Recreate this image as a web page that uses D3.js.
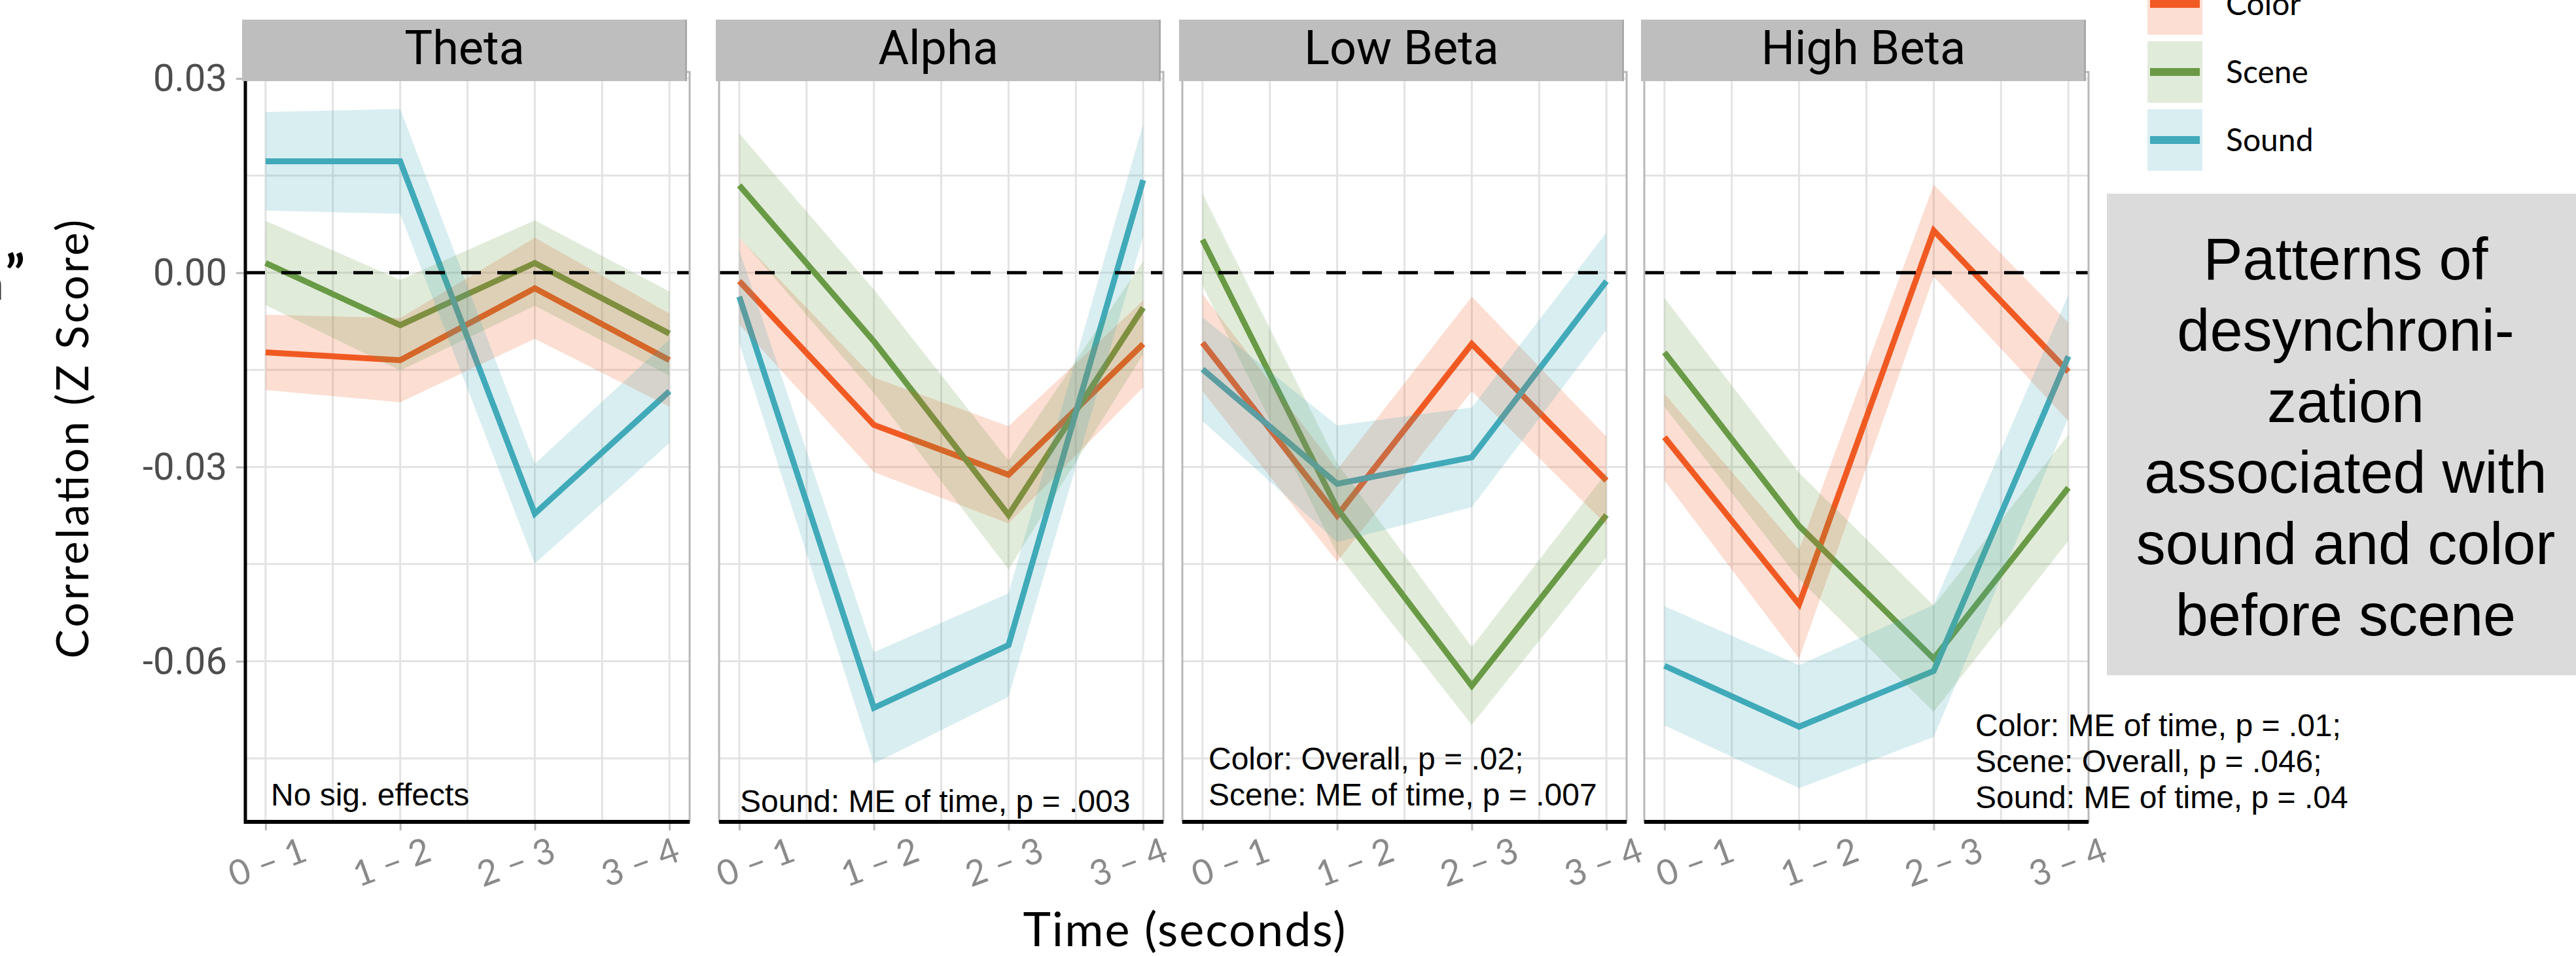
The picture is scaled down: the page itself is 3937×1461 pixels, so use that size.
<!DOCTYPE html>
<html>
<head>
<meta charset="utf-8">
<script src="https://cdn.jsdelivr.net/npm/d3@7"></script>
<style>
  body { margin: 0; background: #fff; }
  svg { display: block; }
</style>
</head>
<body>
<div id="chart"></div>
<script>
// facets and groups
const bands = ["Theta", "Alpha", "Low Beta", "High Beta"];
const conditions = ["Color", "Scene", "Sound"];
const timePoints = [1, 2, 3, 4];
const timeLabels = ["0 – 1", "1 – 2", "2 – 3", "3 – 4"];

// mean correlation (z) per band, one value per time bin
const colorMean = [
  [-0.0123, -0.0135, -0.0024, -0.0135],
  [-0.0013, -0.0235, -0.0312, -0.011],
  [-0.0108, -0.0375, -0.011, -0.0321],
  [-0.0254, -0.0512, 0.0065, -0.0153],
];
const colorSe = [
  [0.0058, 0.0065, 0.0078, 0.0072],
  [0.0067, 0.0073, 0.0075, 0.0067],
  [0.0075, 0.0071, 0.0073, 0.0068],
  [0.0067, 0.0084, 0.0071, 0.0076],
];
const sceneMean = [
  [0.0015, -0.0081, 0.0015, -0.0094],
  [0.0135, -0.0106, -0.0374, -0.0054],
  [0.0051, -0.0364, -0.0638, -0.0374],
  [-0.0123, -0.0391, -0.0596, -0.0332],
];
const sceneSe = [
  [0.0065, 0.007, 0.0066, 0.0065],
  [0.008, 0.008, 0.0084, 0.0072],
  [0.0071, 0.007, 0.006, 0.0065],
  [0.0084, 0.0082, 0.0082, 0.0082],
];
const soundMean = [
  [0.0172, 0.0172, -0.0372, -0.0183],
  [-0.0037, -0.0672, -0.0575, 0.0143],
  [-0.0149, -0.0326, -0.0285, -0.0013],
  [-0.0607, -0.0701, -0.0615, -0.0129],
];
const soundSe = [
  [0.0076, 0.0081, 0.0077, 0.008],
  [0.0072, 0.0086, 0.008, 0.0087],
  [0.008, 0.009, 0.0077, 0.0075],
  [0.0092, 0.0095, 0.0102, 0.0095],
];

const yTicks = [0.03, 0, -0.03, -0.06];
const yMinor = [0.015, -0.015, -0.045, -0.075];
const xMinor = [1.5, 2.5, 3.5];

// stats notes printed inside each facet
const notes = [
  ["No sig. effects"],
  ["Sound: ME of time, p = .003"],
  ["Color: Overall, p = .02;", "Scene: ME of time, p = .007"],
  ["Color: ME of time, p = .01;", "Scene: Overall, p = .046;", "Sound: ME of time, p = .04"],
];

const boxLines = [
  "Patterns of",
  "desynchroni-",
  "zation",
  "associated with",
  "sound and color",
  "before scene",
];

const colours = { Color: "#F15A22", Scene: "#6A9A45", Sound: "#40AABA" };

const series = [
  { name: "Color", mean: colorMean, se: colorSe },
  { name: "Scene", mean: sceneMean, se: sceneSe },
  { name: "Sound", mean: soundMean, se: soundSe },
];

// layout
const width = 3937;
const height = 1461;
const panelLeft = [375, 1099, 1807, 2513];
const panelW = 679;
const panelTop = 110;
const panelBottom = 1256;
const labelStart = [33, 55, 73, 77]; // the time labels sit a bit off the ticks
const labelStep = 190;
const notePos = [[39, 1231], [32, 1241], [40, 1176], [506, 1125]];
const noteLead = 55;

const titleFont = "Lato, 'Open Sans', sans-serif";
const condFont = "Roboto, 'DejaVu Sans', sans-serif";
const plainFont = "'Liberation Sans', Arial, sans-serif";

const svg = d3
  .select("#chart")
  .append("svg")
  .attr("width", width)
  .attr("height", height)
  .attr("viewBox", `0 0 ${width} ${height}`);

svg.append("rect").attr("width", width).attr("height", height).attr("fill", "#fff");

const y = d3.scaleLinear().domain([-0.0848, 0.031]).range([panelBottom, panelTop]);

bands.forEach((band, b) => {
  const left = panelLeft[b];
  const x = d3.scaleLinear().domain([0.85, 4.15]).range([left, left + panelW]);
  const g = svg.append("g").attr("class", "panel");

  // grid
  g.append("g")
    .selectAll("line")
    .data([...yTicks, ...yMinor])
    .join("line")
    .attr("x1", left)
    .attr("x2", left + panelW)
    .attr("y1", (d) => y(d))
    .attr("y2", (d) => y(d))
    .attr("stroke", "#e3e3e3")
    .attr("stroke-width", 3);

  g.append("g")
    .selectAll("line")
    .data([...timePoints, ...xMinor])
    .join("line")
    .attr("x1", (d) => x(d))
    .attr("x2", (d) => x(d))
    .attr("y1", panelTop)
    .attr("y2", panelBottom)
    .attr("stroke", "#e3e3e3")
    .attr("stroke-width", 3);

  // lines first, ribbons on top of them
  const line = d3
    .line()
    .x((d, i) => x(timePoints[i]))
    .y((d) => y(d));

  g.append("g")
    .selectAll("path")
    .data(series)
    .join("path")
    .attr("d", (s) => line(s.mean[b]))
    .attr("fill", "none")
    .attr("stroke", (s) => colours[s.name])
    .attr("stroke-width", 9)
    .attr("stroke-linejoin", "miter");

  const area = d3
    .area()
    .x((d) => x(d.t))
    .y0((d) => y(d.m - d.se))
    .y1((d) => y(d.m + d.se));

  g.append("g")
    .selectAll("path")
    .data(series)
    .join("path")
    .attr("d", (s) =>
      area(s.mean[b].map((m, i) => ({ t: timePoints[i], m, se: s.se[b][i] }))),
    )
    .attr("fill", (s) => colours[s.name])
    .attr("fill-opacity", 0.2);

  // zero reference
  g.append("line")
    .attr("x1", left)
    .attr("x2", left + panelW)
    .attr("y1", y(0))
    .attr("y2", y(0))
    .attr("stroke", "#000")
    .attr("stroke-width", 5)
    .attr("stroke-dasharray", "30,25");

  // panel border
  g.append("rect")
    .attr("x", left)
    .attr("y", panelTop)
    .attr("width", panelW)
    .attr("height", panelBottom - panelTop)
    .attr("fill", "none")
    .attr("stroke", "#b8b8b8")
    .attr("stroke-width", 3);

  // x axis
  const xAxis = g
    .append("g")
    .attr("transform", `translate(0,${panelBottom + 2})`)
    .call(d3.axisBottom(x).tickValues(timePoints).tickSize(11).tickFormat(""));
  xAxis.select(".domain").remove();
  xAxis.selectAll(".tick line").attr("stroke", "#b8b8b8").attr("stroke-width", 3);

  g.append("line")
    .attr("x1", left)
    .attr("x2", left + panelW)
    .attr("y1", panelBottom)
    .attr("y2", panelBottom)
    .attr("stroke", "#000")
    .attr("stroke-width", 6);

  const labelX = d3
    .scaleLinear()
    .domain([1, 4])
    .range([left + labelStart[b], left + labelStart[b] + 3 * labelStep]);

  g.append("g")
    .selectAll("text")
    .data(timePoints)
    .join("text")
    .attr("transform", (d) => `translate(${labelX(d)},1316) rotate(-20)`)
    .attr("text-anchor", "middle")
    .attr("dominant-baseline", "central")
    .attr("font-family", titleFont)
    .attr("font-size", 54)
    .attr("fill", "#8a8a8a")
    .text((d, i) => timeLabels[i]);

  // facet strip
  svg.append("rect")
    .attr("x", left - 5)
    .attr("y", 30)
    .attr("width", 680)
    .attr("height", 94)
    .attr("fill", "#bebebe");
  svg.append("rect")
    .attr("x", left + 672)
    .attr("y", 30)
    .attr("width", 3)
    .attr("height", 94)
    .attr("fill", "#a9a9a9");
  svg.append("text")
    .attr("x", left + 335)
    .attr("y", 98)
    .attr("text-anchor", "middle")
    .attr("font-family", condFont)
    .attr("font-size", 72)
    .attr("fill", "#000")
    .text(band);

  // notes
  g.append("g")
    .selectAll("text")
    .data(notes[b])
    .join("text")
    .attr("x", left + notePos[b][0])
    .attr("y", (d, i) => notePos[b][1] + i * noteLead)
    .attr("font-family", plainFont)
    .attr("font-size", 48)
    .attr("fill", "#000")
    .text((d) => d);

  // y axis only on the first facet
  if (b === 0) {
    const yAxis = g
      .append("g")
      .attr("transform", `translate(${left - 2},0)`)
      .call(
        d3.axisLeft(y)
          .tickValues(yTicks)
          .tickSize(12)
          .tickPadding(14)
          .tickFormat((d) => d.toFixed(2)),
      );
    yAxis.select(".domain").remove();
    yAxis.selectAll(".tick line").attr("stroke", "#b8b8b8").attr("stroke-width", 3);
    yAxis.selectAll(".tick text")
      .attr("font-family", condFont)
      .attr("font-size", 58)
      .attr("fill", "#4d4d4d");

    g.append("line")
      .attr("x1", left)
      .attr("x2", left)
      .attr("y1", panelTop)
      .attr("y2", panelBottom + 3)
      .attr("stroke", "#000")
      .attr("stroke-width", 5);
  }
});

// axis titles
svg.append("text")
  .attr("transform", "translate(135,671) rotate(-90)")
  .attr("text-anchor", "middle")
  .attr("font-family", titleFont)
  .attr("font-size", 67)
  .attr("textLength", 671)
  .attr("lengthAdjust", "spacing")
  .attr("fill", "#000")
  .text("Correlation (Z Score)");

// tail of a cut-off line at the left edge
svg.append("text")
  .attr("x", 8)
  .attr("y", 446)
  .attr("font-family", titleFont)
  .attr("font-weight", 700)
  .attr("font-size", 78)
  .attr("fill", "#000")
  .text("”");
svg.append("text")
  .attr("x", 6)
  .attr("y", 458)
  .attr("text-anchor", "end")
  .attr("font-family", titleFont)
  .attr("font-size", 70)
  .attr("fill", "#333")
  .text("n");

svg.append("text")
  .attr("x", 1810)
  .attr("y", 1446)
  .attr("text-anchor", "middle")
  .attr("font-family", titleFont)
  .attr("font-size", 72)
  .attr("textLength", 493)
  .attr("lengthAdjust", "spacing")
  .attr("fill", "#000")
  .text("Time (seconds)");

// legend
const legend = svg.append("g").attr("transform", "translate(3282,-41)");
const key = legend
  .selectAll("g")
  .data(conditions)
  .join("g")
  .attr("transform", (d, i) => `translate(0,${i * 104})`);

key.append("rect")
  .attr("width", 84)
  .attr("height", 94)
  .attr("fill", (d) => colours[d])
  .attr("fill-opacity", 0.2);
key.append("line")
  .attr("x1", 4)
  .attr("x2", 80)
  .attr("y1", 47)
  .attr("y2", 47)
  .attr("stroke", (d) => colours[d])
  .attr("stroke-width", 12);
key.append("text")
  .attr("x", 120)
  .attr("y", 64)
  .attr("font-family", titleFont)
  .attr("font-size", 48)
  .attr("fill", "#000")
  .text((d) => d);

// summary box
svg.append("rect")
  .attr("x", 3220)
  .attr("y", 296)
  .attr("width", width - 3220)
  .attr("height", 736)
  .attr("fill", "#dcdbdc");

svg.append("g")
  .selectAll("text")
  .data(boxLines)
  .join("text")
  .attr("x", 3585)
  .attr("y", (d, i) => 427 + i * 108.8)
  .attr("text-anchor", "middle")
  .attr("font-family", plainFont)
  .attr("font-size", 90)
  .attr("fill", "#000")
  .text((d) => d);
</script>
</body>
</html>
